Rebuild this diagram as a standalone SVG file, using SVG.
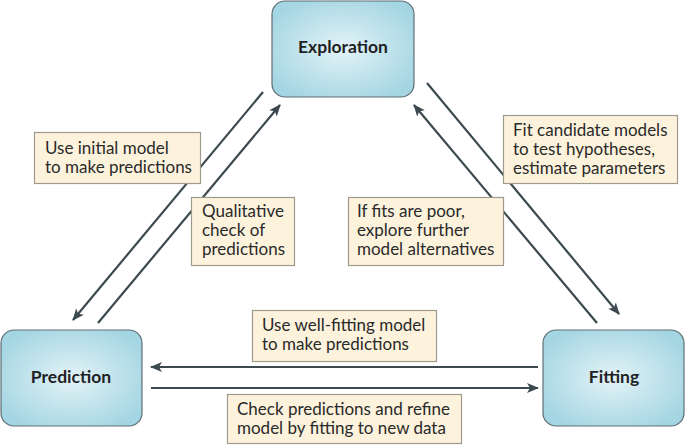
<svg xmlns="http://www.w3.org/2000/svg" width="685" height="446" viewBox="0 0 685 446">
<defs>
<radialGradient id="g" cx="50%" cy="50%" r="60%">
<stop offset="0" stop-color="#e3f3f7"/>
<stop offset="1" stop-color="#a3d5e2"/>
</radialGradient>
<marker id="ah" viewBox="0 0 12 10" refX="11" refY="5" markerWidth="12" markerHeight="10" markerUnits="userSpaceOnUse" orient="auto">
<path d="M0,0 L12,5 L0,10 L3,5 Z" fill="#3c4a50"/>
</marker>
<style>
.node rect{fill:url(#g);stroke:#5f6f74;stroke-width:1.2}
.node text{font-family:Lato,"Open Sans","Liberation Sans",sans-serif;font-weight:bold;font-size:17.5px;fill:#1f2224;text-anchor:middle}
.lbl rect{fill:#fdf3dd;stroke:#a09a8c;stroke-width:1.2}
.lbl text{font-family:Lato,"Open Sans","Liberation Sans",sans-serif;font-size:17px;fill:#2a2a2a}
.conn line{stroke:#3c4a50;stroke-width:2.2}
</style>
</defs>
<rect width="685" height="446" fill="#ffffff"/>
<g id="connectors" class="conn">
<line x1="263" y1="92" x2="73" y2="320" marker-end="url(#ah)"/>
<line x1="98" y1="323" x2="280" y2="105" marker-end="url(#ah)"/>
<line x1="427" y1="83" x2="619" y2="314" marker-end="url(#ah)"/>
<line x1="597" y1="323" x2="414" y2="105" marker-end="url(#ah)"/>
<line x1="538" y1="367" x2="151" y2="367" marker-end="url(#ah)"/>
<line x1="151" y1="388" x2="538" y2="388" marker-end="url(#ah)"/>
</g>
<g id="exploration" class="node">
<rect x="272" y="1" width="142" height="96" rx="13"/>
<text x="343" y="53">Exploration</text>
</g>
<g id="prediction" class="node">
<rect x="1" y="330" width="141" height="96" rx="13"/>
<text x="71" y="383">Prediction</text>
</g>
<g id="fitting" class="node">
<rect x="543" y="330" width="141" height="96" rx="13"/>
<text x="614" y="383">Fitting</text>
</g>
<g id="label-initial" class="lbl">
<rect x="34.5" y="132.5" width="166" height="51"/>
<text x="45" y="154">Use initial model</text>
<text x="45" y="173">to make predictions</text>
</g>
<g id="label-qualitative" class="lbl">
<rect x="191.5" y="197.5" width="103" height="68"/>
<text x="202" y="217">Qualitative</text>
<text x="202" y="236">check of</text>
<text x="202" y="255">predictions</text>
</g>
<g id="label-fit" class="lbl">
<rect x="503.5" y="115.5" width="174" height="68"/>
<text x="513" y="136">Fit candidate models</text>
<text x="513" y="155">to test hypotheses,</text>
<text x="513" y="174">estimate parameters</text>
</g>
<g id="label-poor" class="lbl">
<rect x="348.5" y="197.5" width="155" height="68"/>
<text x="357" y="217">If fits are poor,</text>
<text x="357" y="236">explore further</text>
<text x="357" y="255">model alternatives</text>
</g>
<g id="label-wellfit" class="lbl">
<rect x="252.5" y="310.5" width="184" height="51"/>
<text x="262" y="331">Use well-fitting model</text>
<text x="262" y="350">to make predictions</text>
</g>
<g id="label-check" class="lbl">
<rect x="227.5" y="394.5" width="234" height="49"/>
<text x="237" y="415">Check predictions and refine</text>
<text x="237" y="434">model by fitting to new data</text>
</g>
</svg>
